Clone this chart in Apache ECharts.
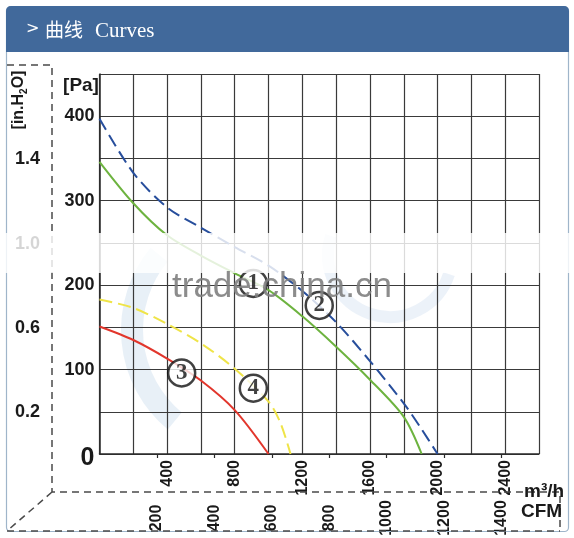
<!DOCTYPE html>
<html>
<head>
<meta charset="utf-8">
<script src="https://cdn.jsdelivr.net/npm/echarts@6/dist/echarts.min.js"></script>
<style>
html,body{margin:0;padding:0;background:#fff;}
#c{width:574px;height:538px;}
</style>
</head>
<body>
<div id="c"></div>
<script>
// ---- data (flow in m3/h, pressure in Pa) ----
const curve2Blue   = [[0,397],[200,333],[400,292],[600,268],[800,245],[1000,223],[1200,193],[1400,156],[1600,110],[1800,60],[1900,31],[2000,0]];
const curve1Green  = [[0,346],[200,297],[400,259],[600,235],[800,214],[1000,194],[1200,163],[1400,127],[1600,88],[1800,44],[1906,0]];
const curve4Yellow = [[0,183],[200,173],[400,154],[600,131],[800,101],[1000,62],[1070,37],[1130,0]];
const curve3Red    = [[0,151],[200,135],[400,113],[600,87],[800,52],[1000,0]];
const curveTags    = [{name:'1',value:[910,202]},{name:'2',value:[1300,176]},{name:'3',value:[486,96]},{name:'4',value:[910,78]}];
const flowMax = 2600, flowStep = 200, flowLabelStep = 400;
const paMax = 450, paStep = 50, paLabelStep = 100;
const cfmTicks = [200,400,600,800,1000,1200,1400];
const inH2OTicks = [0.2,0.6,1.0,1.4];
const M3H_PER_CFM = 1.69901;
const PA_PER_INH2O = 249.089;

const NF = '"Liberation Sans",Arial,sans-serif';
const chart = echarts.init(document.getElementById('c'), null, {renderer:'canvas'});

const dash = [7,5];
const dashStyle = {stroke:'#4a4a4a', lineWidth:1.5, lineDash:dash, fill:null};

chart.setOption({
  animation:false,
  backgroundColor:'#ffffff',
  grid:{left:99.5, right:35, top:74, bottom:84, containLabel:false, outerBoundsMode:'none'},
  xAxis:[{
    type:'value', min:0, max:flowMax, interval:flowStep, position:'bottom',
    axisLine:{show:true, onZero:false, lineStyle:{color:'#2a2a2a', width:1.5}},
    axisTick:{show:false},
    splitLine:{show:true, lineStyle:{color:'#3a3a3a', width:1.2}},
    axisLabel:{rotate:90, margin:6, fontFamily:NF, fontWeight:'bold', fontSize:16, color:'#1a1a1a',
      formatter:v => (v>0 && v%flowLabelStep===0) ? String(v) : ''}
  },{
    type:'value', min:0, max:flowMax/M3H_PER_CFM, position:'bottom', offset:0,
    axisLine:{show:false},
    axisTick:{show:true, length:4, inside:false, customValues:cfmTicks, lineStyle:{color:'#2a2a2a', width:1.2}},
    splitLine:{show:false},
    axisLabel:{customValues:cfmTicks, rotate:90, margin:64, align:'center', verticalAlign:'middle',
      fontFamily:NF, fontWeight:'bold', fontSize:16, color:'#1a1a1a',
      formatter:v => String(v)}
  }],
  yAxis:[{
    type:'value', min:0, max:paMax, interval:paStep, position:'left',
    axisLine:{show:true, onZero:false, lineStyle:{color:'#2a2a2a', width:1.5}},
    axisTick:{show:false},
    splitLine:{show:true, lineStyle:{color:'#3a3a3a', width:1.2}},
    axisLabel:{margin:5, fontFamily:NF, fontWeight:'bold', fontSize:18, color:'#1a1a1a',
      formatter:v => v===0 ? '{z|0}' : (v%paLabelStep===0 ? String(v) : ''),
      rich:{z:{fontFamily:NF, fontWeight:'bold', fontSize:25, color:'#1a1a1a', padding:[8,0,0,0]}}}
  },{
    type:'value', min:0, max:paMax/PA_PER_INH2O, position:'left', offset:47.5,
    axisLine:{show:false}, axisTick:{show:false}, splitLine:{show:false},
    axisLabel:{customValues:inH2OTicks, margin:12, fontFamily:NF, fontWeight:'bold', fontSize:18, color:'#1a1a1a',
      formatter:v => v.toFixed(1)}
  }],
  series:[
    {type:'line', name:'2', data:curve2Blue, smooth:0.3, symbol:'none', z:3,
      lineStyle:{color:'#274e9c', width:2, type:[13,6]}},
    {type:'line', name:'1', data:curve1Green, smooth:0.3, symbol:'none', z:3,
      lineStyle:{color:'#6db33f', width:2}},
    {type:'line', name:'4', data:curve4Yellow, smooth:0.3, symbol:'none', z:3,
      lineStyle:{color:'#efe448', width:2, type:[13,6]}},
    {type:'line', name:'3', data:curve3Red, smooth:0.3, symbol:'none', z:3,
      lineStyle:{color:'#e2362c', width:2}},
    {type:'scatter', data:curveTags, symbol:'circle', symbolSize:27, z:5,
      itemStyle:{color:'#ffffff', borderColor:'#111', borderWidth:2.5},
      label:{show:true, position:'inside', formatter:p => p.name, fontFamily:'"Liberation Serif",serif', fontWeight:'bold', fontSize:23, color:'#111'}}
  ],
  graphic:[
    // faint logo watermark
    {type:'arc', z:0, shape:{cx:250, cy:330, r:118, startAngle:Math.PI*0.72, endAngle:Math.PI*1.22}, style:{stroke:'rgba(150,185,220,0.22)', lineWidth:22, fill:null}},
    {type:'arc', z:0, shape:{cx:390, cy:255, r:62, startAngle:Math.PI*0.1, endAngle:Math.PI*1.1}, style:{stroke:'rgba(150,185,220,0.18)', lineWidth:12, fill:null}},
    // outer frame
    {type:'rect', z:1, shape:{x:6.5, y:6.5, width:562, height:525, r:4}, style:{fill:null, stroke:'#9fb5ca', lineWidth:1.2}},
    // header bar
    {type:'rect', z:2, shape:{x:6, y:6, width:563, height:46, r:[5,5,0,0]}, style:{fill:'#41699b'}},
    {type:'text', z:3, x:26, y:29, style:{text:'>', fill:'#fff', font:'16px "DejaVu Sans",sans-serif', verticalAlign:'middle'}},
    {type:'text', z:3, x:45, y:30, style:{text:'曲线', fill:'#fff', font:'19px "Noto Sans CJK SC",sans-serif', verticalAlign:'middle'}},
    {type:'text', z:3, x:95, y:31, style:{text:'Curves', fill:'#fff', font:'21px "Liberation Serif",serif', verticalAlign:'middle'}},
    // dashed 3D box lines
    {type:'polyline', z:1, shape:{points:[[7,65],[52,65],[52,492],[560,492],[560,531]]}, style:dashStyle},
    {type:'line', z:1, shape:{x1:52, y1:492, x2:7, y2:531}, style:dashStyle},
    {type:'line', z:1, shape:{x1:7, y1:531, x2:560, y2:531}, style:dashStyle},
    // axis titles
    {type:'text', z:3, x:81, y:86, style:{text:'[Pa]', fill:'#1a1a1a', font:'bold 19px '+NF, align:'center', verticalAlign:'middle'}},
    {type:'text', z:3, x:19, y:100, rotation:Math.PI/2,
      style:{text:'{a|[in.H}{s|2}{a|O]}', align:'center', verticalAlign:'middle',
        rich:{a:{fontFamily:NF, fontWeight:'bold', fontSize:16, fill:'#1a1a1a', verticalAlign:'middle', lineHeight:20},
              s:{fontFamily:NF, fontWeight:'bold', fontSize:10, fill:'#1a1a1a', verticalAlign:'bottom', lineHeight:20}}}},
    {type:'text', z:3, x:524, y:482, style:{text:'m³/h', fill:'#1a1a1a', font:'bold 19px '+NF, verticalAlign:'alphabetic'}},
    {type:'text', z:3, x:521, y:512, style:{text:'CFM', fill:'#1a1a1a', font:'bold 19px '+NF, verticalAlign:'middle'}},
    // watermark band
    {type:'rect', z:100, shape:{x:0, y:233, width:574, height:40}, style:{fill:'rgba(255,255,255,0.82)'}},
    {type:'text', z:101, x:172, y:270, style:{text:'trade.china.cn', fill:'rgba(128,128,128,0.9)', font:'35px "Liberation Sans",sans-serif', verticalAlign:'alphabetic'}}
  ]
});
</script>
</body>
</html>
